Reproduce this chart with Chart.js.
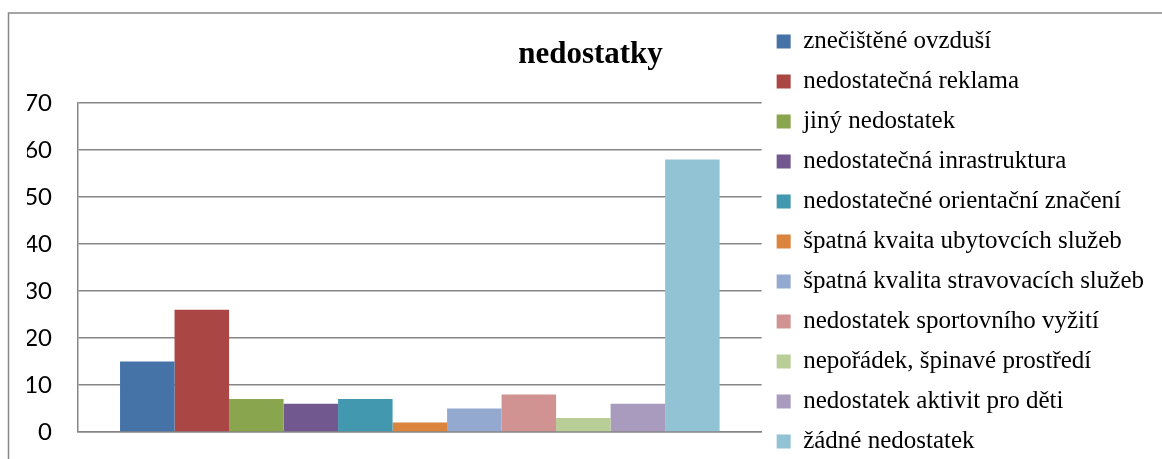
<!DOCTYPE html>
<html>
<head>
<meta charset="utf-8">
<script src="https://cdn.jsdelivr.net/npm/chart.js@4/dist/chart.umd.min.js"></script>
<style>
  html, body { margin: 0; padding: 0; background: #fff; }
  #wrap { position: relative; width: 1162px; height: 459px; }
</style>
</head>
<body>
<div id="wrap"><canvas id="c"></canvas></div>
<script>
// ---- data ----
const categories = [''];
const seriesNames = [
  'znečištěné ovzduší',
  'nedostatečná reklama',
  'jiný nedostatek',
  'nedostatečná inrastruktura',
  'nedostatečné orientační značení',
  'špatná kvaita ubytovcích služeb',
  'špatná kvalita stravovacích služeb',
  'nedostatek sportovního vyžití',
  'nepořádek, špinavé prostředí',
  'nedostatek aktivit pro děti',
  'žádné nedostatek'
];
const seriesValues = [15, 26, 7, 6, 7, 2, 5, 8, 3, 6, 58];
const yTicks = [0, 10, 20, 30, 40, 50, 60, 70];
const chartTitle = 'nedostatky';

// ---- styles ----
const seriesColors = [
  '#4572A7', '#AA4643', '#89A54E', '#71588F', '#4198AF', '#DB843D',
  '#93A9CF', '#D19392', '#B9CD96', '#A99BBD', '#92C3D4'
];

const frame = {
  id: 'frame',
  beforeDraw(chart) {
    const ctx = chart.ctx;
    ctx.save();
    ctx.strokeStyle = '#888888';
    ctx.lineWidth = 1.5;
    ctx.strokeRect(8.5, 13, 1300, 600);
    ctx.restore();
  }
};

new Chart(document.getElementById('c'), {
  type: 'bar',
  data: {
    labels: categories,
    datasets: seriesNames.map((name, i) => ({
      label: name,
      data: [seriesValues[i]],
      backgroundColor: seriesColors[i],
      borderWidth: 0,
      categoryPercentage: 0.877,
      barPercentage: 1.0
    }))
  },
  options: {
    responsive: true,
    maintainAspectRatio: false,
    animation: false,
    layout: { padding: { top: 14, bottom: -14, left: 27, right: 8 } },
    plugins: {
      tooltip: { enabled: false },
      title: {
        display: true,
        text: chartTitle,
        color: '#000',
        font: { family: 'Liberation Serif', size: 31, weight: 'bold' },
        padding: { top: 22, bottom: 30 },
        fullSize: true
      },
      legend: {
        position: 'right',
        align: 'start',
        maxWidth: 520,
        labels: {
          color: '#000',
          font: { family: 'Liberation Serif', size: 25 },
          boxWidth: 14,
          boxHeight: 14,
          padding: 15
        }
      }
    },
    scales: {
      x: {
        grid: { display: false },
        border: { display: true, color: '#868686', width: 1.5 },
        ticks: { display: false },
        afterFit(scale) { scale.height = 41; }
      },
      y: {
        min: 0,
        max: 70,
        afterBuildTicks(scale) { scale.ticks = yTicks.map(v => ({ value: v })); },
        afterFit(scale) { scale.width = 51; },
        grid: {
          color: '#868686', lineWidth: 1.5,
          drawTicks: true, tickLength: 23, tickColor: 'rgba(0,0,0,0)'
        },
        border: { display: true, color: '#868686', width: 1.5 },
        ticks: {
          color: '#000',
          font: { family: 'Lato', size: 24 },
          padding: 3
        }
      }
    }
  },
  plugins: [frame]
});
</script>
</body>
</html>
